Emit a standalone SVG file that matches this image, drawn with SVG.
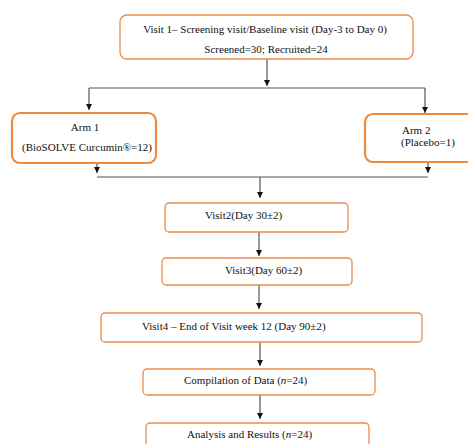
<svg xmlns="http://www.w3.org/2000/svg" width="468" height="444" viewBox="0 0 468 444">
<style>
.box{fill:#fff;stroke:#EA8B4A;stroke-width:1.3}
.thick{stroke-width:2.2;stroke:#EE8A3E}
.t{font-family:"Liberation Serif","Times New Roman",serif;font-size:11px;fill:#111}
.ln{stroke:#555;stroke-width:1;fill:none}
.ar{stroke:#333;stroke-width:1;fill:none;marker-end:url(#ah)}
</style>
<defs>
<marker id="ah" viewBox="0 0 10 10" refX="10" refY="5" markerWidth="6" markerHeight="6" markerUnits="userSpaceOnUse" orient="auto">
<path d="M0,0 L10,5 L0,10 z" fill="#111"/>
</marker>
</defs>
<rect width="468" height="444" fill="#fff"/>
<g id="connectors">
<path class="ar" d="M267,59 V86"/>
<path class="ln" d="M89,88 H425"/>
<path class="ar" d="M89,88 V110"/>
<path class="ar" d="M425,88 V113"/>
<path class="ar" d="M97,163 V173"/>
<path class="ar" d="M428,162 V173"/>
<path class="ln" d="M97,177 H428"/>
<path class="ar" d="M260,177 V198"/>
<path class="ar" d="M259,232 V256"/>
<path class="ar" d="M259,285 V309"/>
<path class="ar" d="M260,342 V366"/>
<path class="ar" d="M260,395 V419"/>
</g>
<g id="visit1">
<rect class="box" x="120" y="15" width="293" height="44" rx="7"/>
<text class="t" x="265" y="33" text-anchor="middle">Visit 1– Screening visit/Baseline visit (Day-3 to Day 0)</text>
<text class="t" x="266" y="53" text-anchor="middle">Screened=30; Recruited=24</text>
</g>
<g id="arm1">
<rect class="box thick" x="12" y="113" width="144" height="50" rx="8"/>
<text class="t" x="85" y="131" text-anchor="middle">Arm 1</text>
<text class="t" x="87" y="151" text-anchor="middle">(BioSOLVE Curcumin®=12)</text>
</g>
<g id="arm2">
<rect class="box thick" x="365" y="114" width="120" height="48" rx="8"/>
<text class="t" x="402" y="134">Arm 2</text>
<text class="t" x="401" y="146">(Placebo=1)</text>
</g>
<g id="visit2">
<rect class="box" x="165" y="203" width="183" height="29" rx="4"/>
<text class="t" x="205" y="219">Visit2(Day 30±2)</text>
</g>
<g id="visit3">
<rect class="box" x="162" y="258" width="190" height="27" rx="4"/>
<text class="t" x="225" y="274">Visit3(Day 60±2)</text>
</g>
<g id="visit4">
<rect class="box" x="101" y="313" width="321" height="29" rx="4"/>
<text class="t" x="142" y="330">Visit4 – End of Visit week 12 (Day 90±2)</text>
</g>
<g id="compilation">
<rect class="box" x="143" y="369" width="232" height="26" rx="4"/>
<text class="t" x="184" y="384">Compilation of Data (<tspan font-style="italic">n</tspan>=24)</text>
</g>
<g id="analysis">
<rect class="box" x="146" y="423" width="223" height="30" rx="4"/>
<text class="t" x="187" y="438">Analysis and Results (<tspan font-style="italic">n</tspan>=24)</text>
</g>
</svg>
